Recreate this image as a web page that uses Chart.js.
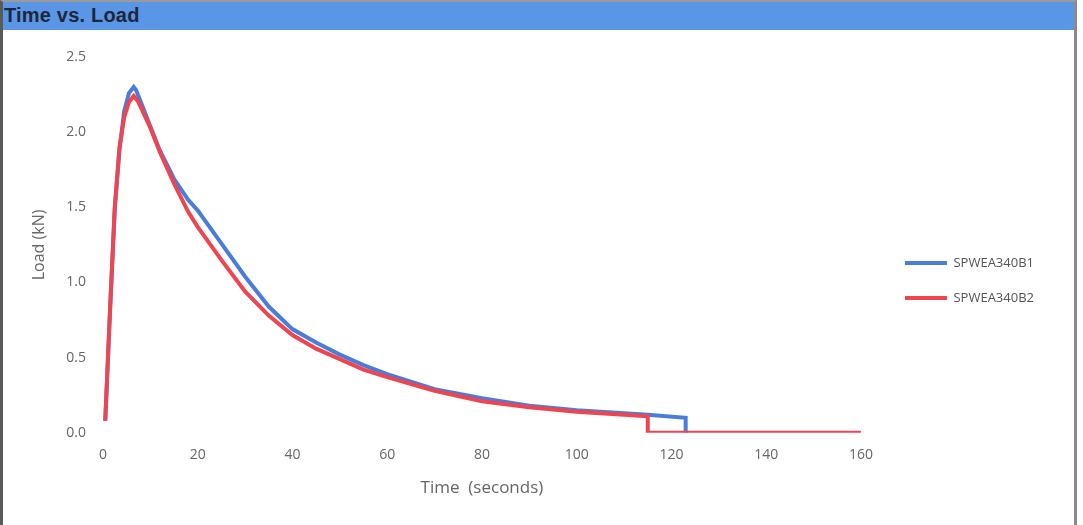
<!DOCTYPE html>
<html>
<head>
<meta charset="utf-8">
<script src="https://cdn.jsdelivr.net/npm/chart.js@4.4.1/dist/chart.umd.min.js"></script>
<style>
  body { margin: 0; background: #fff; }
  #frame {
    position: absolute; left: 0; top: 0; width: 1077px; height: 525px;
    border-left: 3px solid #5a5a5a; border-right: 3px solid #8a8a8a;
    border-top: 2px solid #9a9a9a; box-sizing: border-box;
  }
  #bar {
    position: absolute; left: 0; top: 0; right: 0; height: 28px;
    background: #5b95e6;
    font: bold 20px "Liberation Sans", Arial, sans-serif; color: #1c2838;
    line-height: 26px; padding-left: 1px; letter-spacing: 0.2px;
  }
  #wrap { position: absolute; left: 0; top: 28px; width: 1071px; height: 495px; }
</style>
</head>
<body>
<div id="frame">
  <div id="bar">Time vs. Load</div>
  <div id="wrap"><canvas id="myChart"></canvas></div>
</div>
<script>
// SPWEA340B1 (blue)
var blueTime = [0.5, 1.5, 2.5, 3.5, 4.5, 5.5, 6.5, 7.0, 8, 10, 12, 15, 18, 20, 25, 30, 35, 40, 45, 50, 55, 60, 70, 80, 90, 100, 110, 115, 123, 123];
var blueLoad = [0.08, 0.8, 1.48, 1.88, 2.14, 2.26, 2.30, 2.28, 2.2, 2.04, 1.88, 1.69, 1.55, 1.48, 1.26, 1.04, 0.84, 0.69, 0.60, 0.52, 0.45, 0.39, 0.29, 0.23, 0.18, 0.15, 0.13, 0.12, 0.10, 0.0];
// SPWEA340B2 (red)
var redTime = [0.5, 1.5, 2.5, 3.5, 4.5, 5.5, 6.5, 7.5, 10, 12, 15, 18, 20, 25, 30, 35, 40, 45, 50, 55, 60, 70, 80, 90, 100, 110, 115, 115, 160];
var redLoad = [0.08, 0.82, 1.5, 1.9, 2.1, 2.2, 2.24, 2.2, 2.03, 1.87, 1.66, 1.47, 1.37, 1.15, 0.94, 0.78, 0.65, 0.56, 0.49, 0.42, 0.37, 0.28, 0.21, 0.17, 0.14, 0.12, 0.11, 0.0, 0.0];
var seriesNames = ['SPWEA340B1', 'SPWEA340B2'];
var xTicks = [0, 20, 40, 60, 80, 100, 120, 140, 160];
var yTicks = [0, 0.5, 1.0, 1.5, 2.0, 2.5];

function pts(xs, ys) {
  return xs.map(function (x, i) { return { x: x, y: ys[i] }; });
}

Chart.defaults.font.family = '"Open Sans", Lato, sans-serif';
Chart.defaults.color = '#666';

var ctx = document.getElementById('myChart').getContext('2d');
var chart = new Chart(ctx, {
  type: 'scatter',
  data: {
    datasets: [{
      label: seriesNames[0],
      data: pts(blueTime, blueLoad),
      showLine: true,
      borderColor: '#4a7ddb',
      backgroundColor: '#4a7ddb',
      borderWidth: 4,
      pointRadius: 0,
      tension: 0,
      order: 1
    }, {
      label: seriesNames[1],
      data: pts(redTime, redLoad),
      showLine: true,
      borderColor: '#ef4550',
      backgroundColor: '#ef4550',
      borderWidth: 4,
      pointRadius: 0,
      tension: 0,
      order: 0
    }]
  },
  options: {
    responsive: true,
    maintainAspectRatio: false,
    animation: false,
    layout: { padding: { left: 27, right: 30, top: 27, bottom: 27 } },
    plugins: {
      tooltip: { enabled: false },
      legend: {
        position: 'right',
        title: { display: true, text: ' ', font: { size: 1 }, padding: 2.5 },
        labels: {
          usePointStyle: true,
          pointStyle: 'line',
          pointStyleWidth: 42,
          padding: 22,
          color: '#555',
          font: { size: 13 },
          sort: function (a, b) { return a.datasetIndex - b.datasetIndex; }
        }
      }
    },
    scales: {
      x: {
        type: 'linear',
        min: 0,
        max: 160,
        grid: { display: false, drawTicks: false },
        border: { display: false },
        afterBuildTicks: function (axis) { axis.ticks = xTicks.map(function (v) { return { value: v }; }); },
        ticks: { padding: 14, font: { size: 14 } },
        title: { display: true, text: 'Time  (seconds)', font: { size: 17 }, padding: { top: 0, bottom: 0 } }
      },
      y: {
        min: 0,
        max: 2.5,
        grid: { display: false, drawTicks: false },
        border: { display: false },
        afterBuildTicks: function (axis) { axis.ticks = yTicks.map(function (v) { return { value: v }; }); },
        ticks: { padding: 17, font: { size: 14 }, callback: function (v) { return Number(v).toFixed(1); } },
        title: { display: true, text: 'Load (kN)', font: { size: 16 }, padding: { top: 0, bottom: 0 } }
      },
      gap: {
        position: 'right',
        grid: { display: false, drawTicks: false },
        border: { display: false },
        ticks: { display: false },
        afterFit: function (axis) { axis.width = 22; }
      }
    }
  }
});
</script>
</body>
</html>
